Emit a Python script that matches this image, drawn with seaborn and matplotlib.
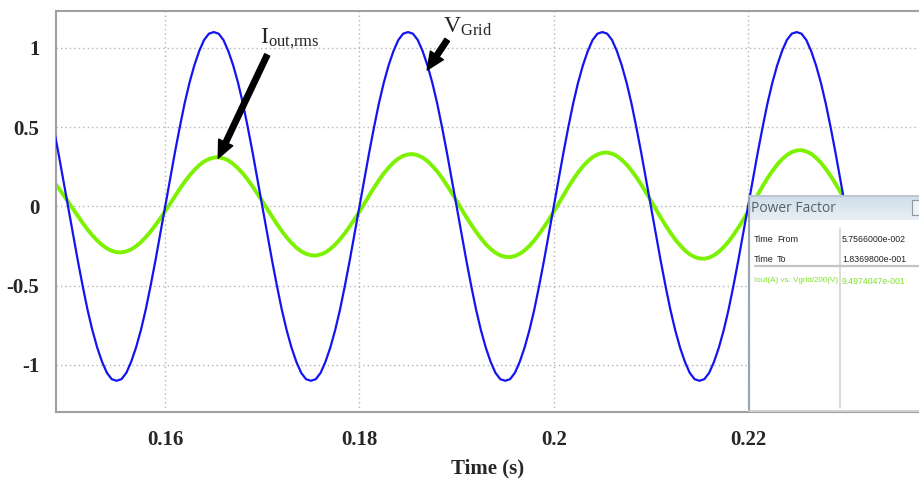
import numpy as np
import matplotlib
matplotlib.use("Agg")
import matplotlib.pyplot as plt
import seaborn as sns

t_start = 0.1485
t_step = 0.0005

# grid voltage (scaled, V/200) - half cycles
v_pos = [0, .17, .34, .50, .65, .78, .89, .98, 1.05, 1.09, 1.10, 1.09, 1.05, .98, .89, .78, .65, .50, .34, .17]
v_neg = [-v for v in v_pos]
v_grid = ([.50, .34, .17] + v_neg + v_pos + v_neg + v_pos + v_neg + v_pos + v_neg + v_pos
          + v_neg[:16])

# output current, half cycles with slowly growing amplitude
i_h0 = [.158, .118, .075, .030]
i_n1 = [-.015, -.060, -.104, -.145, -.182, -.215, -.243, -.265, -.280, -.289,
        -.290, -.284, -.271, -.251, -.225, -.194, -.158, -.118, -.075, -.030]
i_p1 = [.016, .064, .111, .155, .195, .230, .260, .283, .299, .308,
        .310, .303, .290, .268, .241, .207, .169, .126, .080, .033]
i_n2 = [-.016, -.064, -.111, -.155, -.195, -.230, -.260, -.283, -.299, -.308,
        -.310, -.303, -.290, -.268, -.241, -.207, -.169, -.126, -.080, -.033]
i_p2 = [.017, .069, .118, .165, .208, .245, .277, .302, .319, .328,
        .330, .323, .308, .286, .256, .221, .180, .134, .085, .035]
i_n3 = [-.017, -.067, -.115, -.160, -.201, -.238, -.268, -.292, -.309, -.318,
        -.320, -.313, -.299, -.277, -.249, -.214, -.174, -.130, -.083, -.034]
i_p3 = [.018, .071, .122, .170, .214, .253, .285, .311, .328, .338,
        .340, .333, .318, .294, .264, .227, .185, .138, .088, .036]
i_n4 = [-.017, -.069, -.118, -.165, -.208, -.245, -.277, -.302, -.319, -.328,
        -.330, -.323, -.308, -.286, -.256, -.221, -.180, -.134, -.085, -.035]
i_p4 = [.018, .074, .127, .178, .223, .264, .298, .324, .343, .353,
        .355, .347, .332, .307, .276, .237, .193, .144, .092, .037]
i_n5 = [-.018, -.071, -.122, -.170, -.214, -.253, -.285, -.311, -.328, -.338,
        -.340, -.333, -.318, -.294, -.264]
i_out = i_h0 + i_n1 + i_p1 + i_n2 + i_p2 + i_n3 + i_p3 + i_n4 + i_p4 + i_n5

time = np.round(t_start + t_step * np.arange(len(v_grid)), 5)

x_ticks = [0.16, 0.18, 0.2, 0.22]
x_labels = ["0.16", "0.18", "0.2", "0.22"]
y_ticks = [-1, -0.5, 0, 0.5, 1]
y_labels = ["-1", "-0.5", "0", "0.5", "1"]

pf_rows = [("Time", "From", "5.7566000e-002"),
           ("Time", "To", "1.8369800e-001")]
pf_name = "Iout(A) vs. Vgrid/200(V)"
pf_value = "9.4974047e-001"

sns.set_style("white")
plt.rcParams["font.family"] = ["Liberation Serif", "DejaVu Serif"]

fig = plt.figure(figsize=(9.19, 4.83), dpi=100)
ax = fig.add_axes([56 / 919, 71 / 483, 1 - 56 / 919, 401 / 483])

sns.lineplot(x=time, y=i_out, color="#7df200", lw=2.8, ax=ax, zorder=2)
sns.lineplot(x=time, y=v_grid, color="#1414f0", lw=1.6, ax=ax, zorder=3)

ax.set_xlim(0.14876, 0.2376)
ax.set_ylim(-1.297, 1.233)
ax.set_xticks(x_ticks)
ax.set_xticklabels(x_labels)
ax.set_yticks(y_ticks)
ax.set_yticklabels(y_labels)
ax.tick_params(length=0, labelsize=15, pad=13)
ax.tick_params(axis="y", pad=12)
for lab in ax.get_xticklabels() + ax.get_yticklabels():
    lab.set_fontweight("bold")
ax.set_xlabel("Time (s)", fontsize=15, fontweight="bold", labelpad=6)
ax.set_ylabel("")
ax.grid(True, color="#b4b4b4", lw=1, linestyle=(0, (1, 2.2)))
for side in ["left", "bottom", "top"]:
    ax.spines[side].set_color("#a0a0a0")
    ax.spines[side].set_linewidth(1.5)
ax.spines["right"].set_visible(False)

arrow = dict(arrowstyle="simple,head_length=0.9,head_width=0.8,tail_width=0.28",
             color="black", mutation_scale=14, shrinkA=0, shrinkB=0)
ax.annotate("", xy=(0.16546, 0.304), xytext=(0.1705, 0.956), arrowprops=arrow, zorder=5)
ax.annotate("", xy=(0.18697, 0.861), xytext=(0.18903, 1.051), arrowprops=arrow, zorder=5)
ax.text(0.16975, 1.03, r"$\mathregular{I_{out{,}rms}}$", fontsize=17, ha="left", va="baseline")
ax.text(0.18858, 1.095, r"$\mathregular{V_{Grid}}$", fontsize=17, ha="left", va="baseline")

# power factor measurement window
box = fig.add_axes([748 / 919, 71 / 483, 171 / 919, 217 / 483])
box.set_xlim(0, 171)
box.set_ylim(217, 0)
box.axis("off")
box.add_patch(plt.Rectangle((0, 0), 171, 217, fc="white", ec="none"))
grad = np.linspace(0, 1, 50).reshape(-1, 1)
box.imshow(grad, extent=(0, 171, 25, 0), cmap=matplotlib.colors.LinearSegmentedColormap.from_list(
    "bar", ["#cfdcea", "#e9eff6"]), aspect="auto", zorder=1)
box.plot([0.8, 0.8], [0, 217], color="#9aa4ae", lw=1.6, zorder=3)
box.plot([0, 171], [0.8, 0.8], color="#b8c2cc", lw=1.2, zorder=3)
box.plot([0, 171], [216, 216], color="#c8c8c8", lw=1.2, zorder=3)
box.add_patch(plt.Rectangle((164, 5), 12, 15, fc="#eef2f6", ec="#8e98a2", lw=0.8, zorder=3))
box.text(3, 13, "Power Factor", fontsize=10, color="#56606a", family="Open Sans",
         va="center", ha="left", zorder=4)
box.plot([92, 92], [33, 213], color="#d4d4d4", lw=1.2, zorder=2)
box.plot([7, 171], [71, 71], color="#c4c4c4", lw=1.6, zorder=2)
for k, (a, b, v) in enumerate(pf_rows):
    yy = 44 + 21 * k
    box.text(6, yy, a, fontsize=6.5, family="Liberation Sans", color="#222222", va="center")
    box.text(29, yy, b, fontsize=6.5, family="Liberation Sans", color="#222222", va="center")
    box.text(94, yy, v, fontsize=6.3, family="Liberation Sans", color="#222222", va="center")
box.text(6, 86, pf_name, fontsize=5.8, family="Liberation Sans", color="#7fe424", va="center")
box.text(94, 86, pf_value, fontsize=6.3, family="Liberation Sans", color="#7fe424", va="center")

fig.savefig("out.png", dpi=100)
